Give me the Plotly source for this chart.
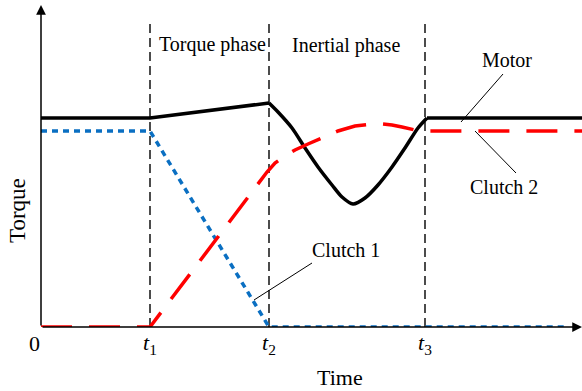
import plotly.graph_objects as go

# ---- data (x: time, y: torque) ----
t_marks = [109, 228, 384]
tick_labels = ["<i>t</i><sub>1</sub>", "<i>t</i><sub>2</sub>", "<i>t</i><sub>3</sub>"]

motor_x = [0, 109, 228, 237, 251, 264, 277, 291, 301, 312, 324, 337, 351, 364, 377, 386, 541]
motor_y = [209, 209, 224, 215, 199, 179, 160, 142, 130, 123, 129, 142, 160, 179, 199, 209, 209]

clutch1_x = [0, 109, 228, 524]
clutch1_y = [196, 196, 0, 0]

clutch2_x = [0, 109, 226, 234, 244, 254, 267, 284, 297, 314, 331, 341, 351, 361, 374, 384, 541]
clutch2_y = [0, 0, 155, 164, 171, 177, 183, 190, 196, 201, 203, 203, 202, 200, 197, 196, 196]

X_MAX, Y_MAX = 541, 322
FONT = "Liberation Serif"

fig = go.Figure()

# motor: straight parts + smooth dip
fig.add_trace(go.Scatter(x=motor_x[:3], y=motor_y[:3], mode="lines",
                         line=dict(color="black", width=3.5), showlegend=False))
fig.add_trace(go.Scatter(x=motor_x[2:16], y=motor_y[2:16], mode="lines",
                         line=dict(color="black", width=3.5, shape="spline", smoothing=0.8),
                         showlegend=False))
fig.add_trace(go.Scatter(x=motor_x[15:], y=motor_y[15:], mode="lines",
                         line=dict(color="black", width=3.5), showlegend=False))
# clutch 1
fig.add_trace(go.Scatter(x=clutch1_x, y=clutch1_y, mode="lines",
                         line=dict(color="#0a6fc2", width=3.5, dash="6px,5px"), showlegend=False))
# clutch 2
fig.add_trace(go.Scatter(x=clutch2_x, y=clutch2_y, mode="lines",
                         line=dict(color="#ff0000", width=3.5, dash="31px,17px"), showlegend=False))

shapes = []
for t in t_marks:
    shapes.append(dict(type="line", xref="x", yref="y", x0=t, x1=t, y0=0, y1=308,
                       line=dict(color="black", width=1.4, dash="9px,5px"), layer="below"))
# leader lines
for (x0, y0, x1, y1) in [(462, 253, 420, 205), (434, 196, 475, 154), (213, 27, 271, 64)]:
    shapes.append(dict(type="line", xref="x", yref="y", x0=x0, y0=y0, x1=x1, y1=y1,
                       line=dict(color="black", width=1)))

tf = dict(family=FONT, size=20, color="black")
c = dict(xanchor="center", yanchor="middle", showarrow=False)
annotations = [
    # axes with arrowheads
    dict(x=X_MAX, y=0, ax=0, ay=0, xref="x", yref="y", axref="x", ayref="y", text="",
         showarrow=True, arrowhead=2, arrowsize=1.3, arrowwidth=1.5, arrowcolor="black", standoff=0),
    dict(x=0, y=Y_MAX, ax=0, ay=0, xref="x", yref="y", axref="x", ayref="y", text="",
         showarrow=True, arrowhead=2, arrowsize=1.3, arrowwidth=1.5, arrowcolor="black", standoff=0),
    dict(x=171, y=283, xref="x", yref="y", text="Torque phase", font=tf, **c),
    dict(x=305, y=282, xref="x", yref="y", text="Inertial phase", font=tf, **c),
    dict(x=466, y=267, xref="x", yref="y", text="Motor", font=tf, **c),
    dict(x=463, y=140, xref="x", yref="y", text="Clutch 2", font=tf, **c),
    dict(x=305, y=77, xref="x", yref="y", text="Clutch 1", font=tf, **c),
    dict(x=(340 - 41) / 541, y=(327 - 377) / 322, xref="paper", yref="paper", text="Time",
         font=dict(family=FONT, size=22, color="black"), **c),
    dict(x=(34 - 41) / 541, y=(327 - 343) / 322, xref="paper", yref="paper", text="0",
         font=dict(family=FONT, size=22, color="black"), **c),
    dict(x=(17 - 41) / 541, y=(327 - 211) / 322, xref="paper", yref="paper", text="Torque",
         textangle=-90, font=dict(family=FONT, size=23, color="black"), **c),
]

fig.update_layout(
    width=582, height=391,
    margin=dict(l=41, r=0, t=5, b=64, pad=0),
    paper_bgcolor="white", plot_bgcolor="white",
    shapes=shapes, annotations=annotations,
    xaxis=dict(range=[0, X_MAX], showgrid=False, zeroline=False, showline=False,
               tickvals=t_marks, ticktext=tick_labels, ticks="",
               tickfont=dict(family=FONT, size=22, color="black")),
    yaxis=dict(range=[0, Y_MAX], showgrid=False, zeroline=False, showline=False,
               showticklabels=False, ticks=""),
)

fig.write_html("out.html", config={"displayModeBar": False},
               post_script="document.body.style.margin='0px';")
